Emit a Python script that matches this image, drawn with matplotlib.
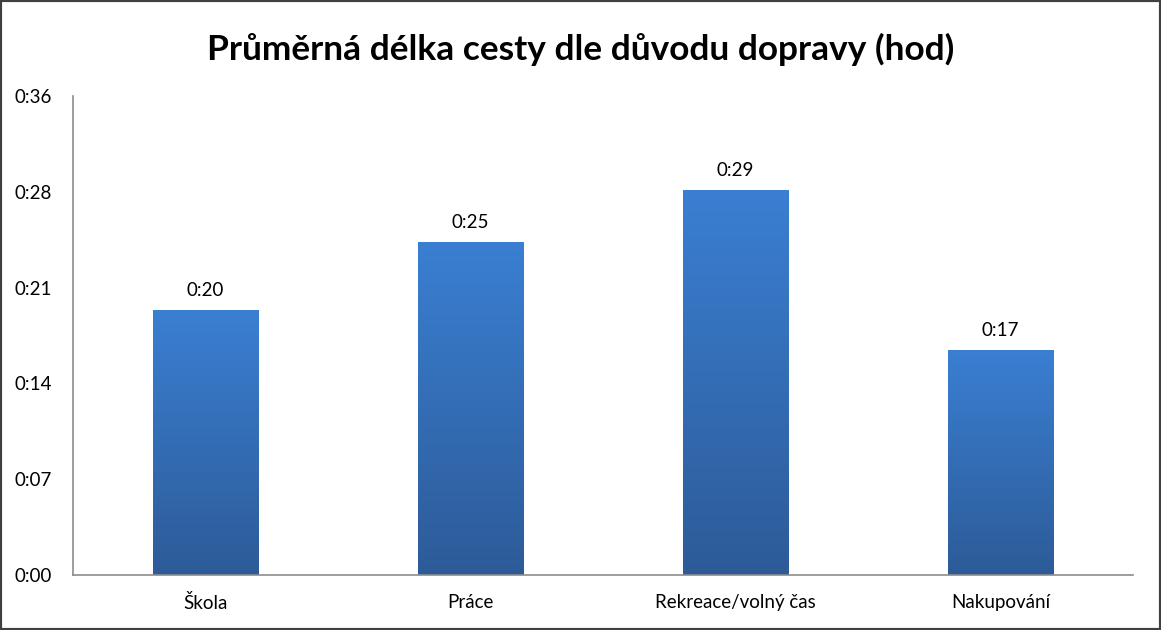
import numpy as np
import matplotlib.pyplot as plt
from matplotlib.patches import Rectangle
from matplotlib.colors import LinearSegmentedColormap

plt.rcParams['font.family'] = ['Lato', 'DejaVu Sans']

# average trip length per purpose, in minutes
categories = ['Škola', 'Práce', 'Rekreace/volný čas', 'Nakupování']
minutes = [19.9, 25.0, 28.9, 16.9]
value_labels = ['0:20', '0:25', '0:29', '0:17']
ytick_values = [0, 7.2, 14.4, 21.6, 28.8, 36]
ytick_labels = ['0:00', '0:07', '0:14', '0:21', '0:28', '0:36']

fig = plt.figure(figsize=(11.61, 6.30), dpi=100)
ax = fig.add_axes([73 / 1161, 55 / 630, 1060 / 1161, 479 / 630])

x = np.arange(len(categories))
bars = ax.bar(x, minutes, width=0.4, color='none', zorder=2)

grad = LinearSegmentedColormap.from_list('bluegrad', ['#2d5b98', '#3a7fd2'])
g = np.linspace(0, 1, 256).reshape(-1, 1)
for b in bars:
    bx, by = b.get_x(), b.get_y()
    w, h = b.get_width(), b.get_height()
    im = ax.imshow(g, cmap=grad, origin='lower', aspect='auto',
                   extent=(bx, bx + w, by, by + h), zorder=2)
    im.set_clip_path(b)

for xi, v, lab in zip(x, minutes, value_labels):
    ax.annotate(lab, (xi, v), xytext=(0, 8), textcoords='offset points',
                ha='center', va='bottom', fontsize=13.5)

ax.set_xlim(-0.5, len(categories) - 0.5)
ax.set_ylim(0, 36)
ax.set_yticks(ytick_values)
ax.set_yticklabels(ytick_labels)
ax.set_xticks(x)
ax.set_xticklabels(categories)
ax.tick_params(axis='both', length=0, labelsize=13.5)
ax.tick_params(axis='y', pad=15)
ax.tick_params(axis='x', pad=14)

for s in ['top', 'right']:
    ax.spines[s].set_visible(False)
for s in ['left', 'bottom']:
    ax.spines[s].set_color('#8c8c8c')
    ax.spines[s].set_linewidth(1.2)

fig.text(0.5, 1 - 49 / 630, 'Průměrná délka cesty dle důvodu dopravy (hod)',
         ha='center', va='center', fontsize=25.4, fontweight='bold')

fig.patches.append(Rectangle((0, 0), 1, 1, transform=fig.transFigure,
                             fill=False, edgecolor='#404040', linewidth=3))

fig.savefig('out.png', dpi=100)
